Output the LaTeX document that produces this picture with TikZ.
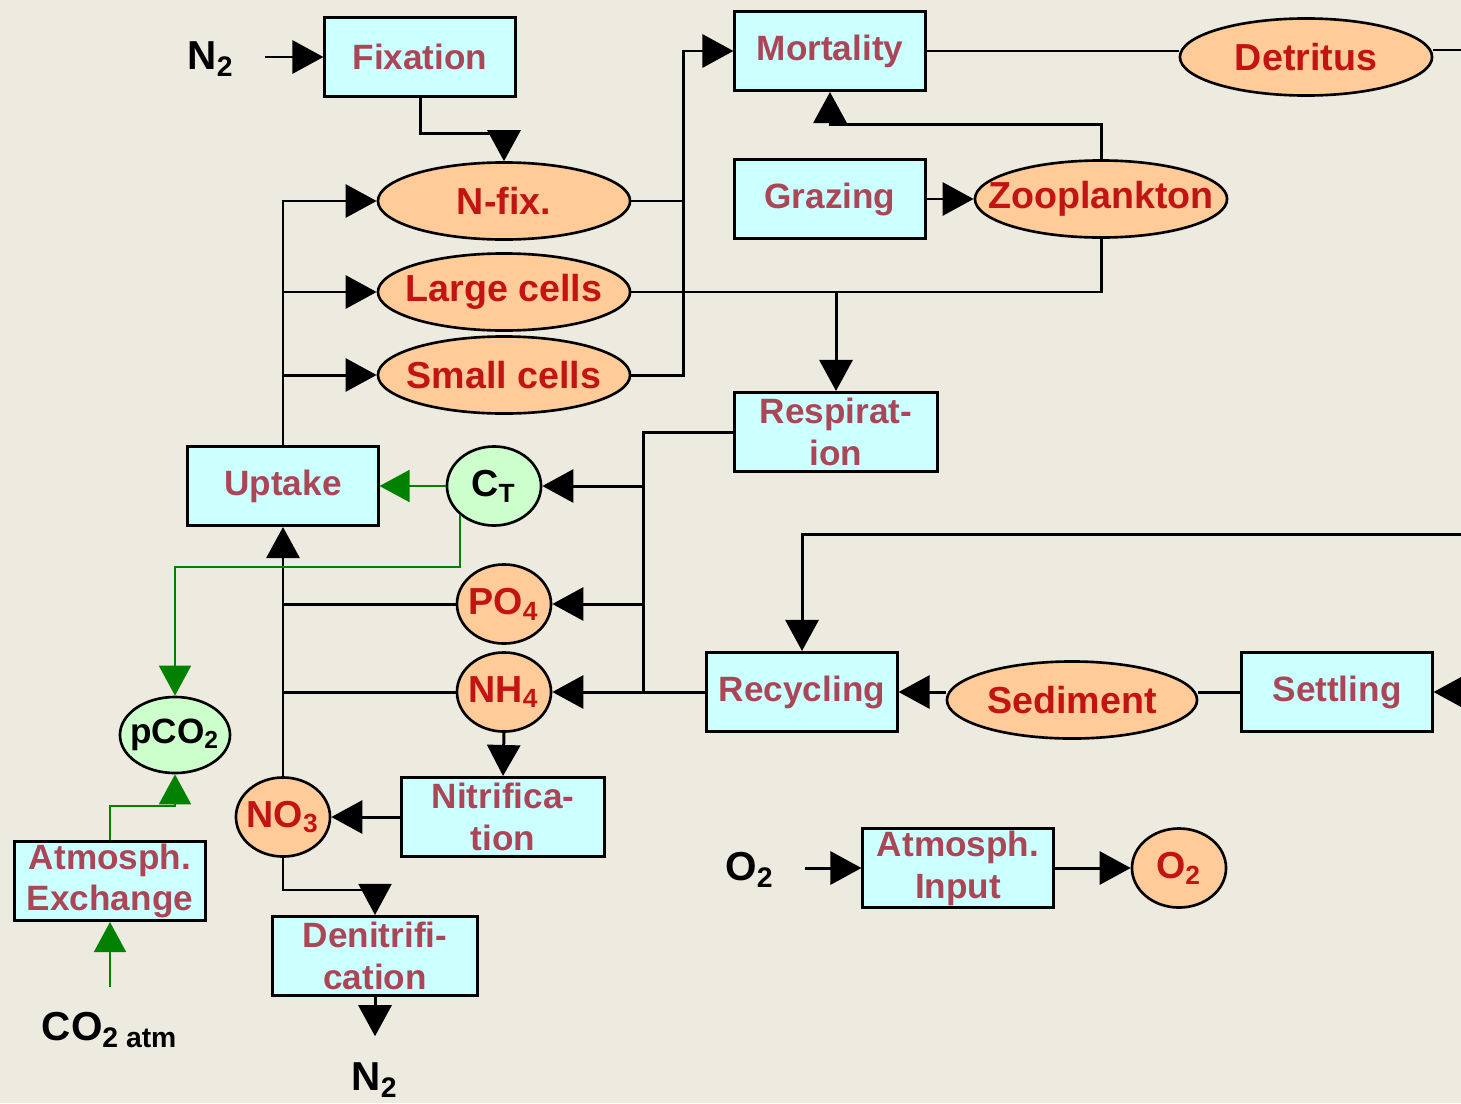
\documentclass[tikz,border=0pt]{standalone}
\usepackage{fontspec}
\setmainfont{Liberation Sans}
\usetikzlibrary{arrows.meta,shapes.geometric}
\definecolor{bgc}{RGB}{237,234,224}
\definecolor{boxfill}{RGB}{204,255,255}
\definecolor{poolfill}{RGB}{255,204,153}
\definecolor{gasfill}{RGB}{204,255,204}
\definecolor{boxtext}{RGB}{170,70,85}
\definecolor{pooltext}{RGB}{195,20,20}
\definecolor{gline}{RGB}{0,130,0}
\tikzset{
  proc/.style={draw, line width=0.85pt, fill=boxfill, text=boxtext, minimum width=1.9cm,
    minimum height=0.79cm, inner sep=0pt, align=center,
    font=\fontsize{10}{11.9}\selectfont\bfseries},
  pool/.style={ellipse, draw, line width=0.75pt, fill=poolfill, text=pooltext,
    minimum width=2.52cm, minimum height=0.77cm, inner xsep=-0.24cm, inner ysep=0pt,
    font=\fontsize{10.7}{12}\selectfont\bfseries},
  ion/.style={pool, minimum width=0.94cm, minimum height=0.79cm},
  gas/.style={ion, fill=gasfill, text=black},
  lbl/.style={font=\fontsize{11.5}{13}\selectfont\bfseries, inner sep=0pt},
  flow/.style={line width=0.85pt, -{Triangle[length=0.31cm,width=0.33cm]}},
  link/.style={line width=0.85pt},
  thinflow/.style={line width=0.45pt, -{Triangle[length=0.31cm,width=0.33cm]}},
  gflow/.style={gline, line width=0.5pt, -{Triangle[length=0.3cm,width=0.32cm]}},
}
\begin{document}
\begin{tikzpicture}[x=0.01cm, y=-0.01cm]
  \path[use as bounding box, fill=bgc] (0,0) rectangle (1461,1103);

  % boxes and pools
  \node[lbl] (n2in) at (211,59) {N\textsubscript{2}};
  \node[proc] (fix) at (420,57) {Fixation};
  \node[proc] (mort) at (830,51) {Mortality};
  \node[pool] (det) at (1306,57) {Detritus};
  \node[pool] (nfix) at (504,201) {N-fix.};
  \node[pool] (lcell) at (504,292) {Large cells};
  \node[pool] (scell) at (504,375) {Small cells};
  \node[proc] (graz) at (830,199) {Grazing};
  \node[pool] (zoo) at (1101,199) {Zooplankton};
  \node[proc, minimum width=2.03cm] (resp) at (836,432) {Respirat-\\ion};
  \node[proc] (up) at (283,486) {Uptake};
  \node[gas] (ct) at (494,486) {C\textsubscript{T}};
  \node[ion] (po4) at (504,604) {PO\textsubscript{4}};
  \node[ion] (nh4) at (504,692) {NH\textsubscript{4}};
  \node[gas, minimum width=1.1cm, minimum height=0.76cm,
    font=\fontsize{10}{12}\selectfont\bfseries] (pco2) at (175,735) {pCO\textsubscript{2}};
  \node[ion] (no3) at (283,817) {NO\textsubscript{3}};
  \node[proc, minimum width=2.02cm] (nitr) at (503,817) {Nitrifica-\\tion};
  \node[proc] (atex) at (110,881) {Atmosph.\\Exchange};
  \node[proc, minimum width=2.04cm] (denit) at (375,956) {Denitrifi-\\cation};
  \node[lbl] (co2) at (110,1030) {CO\textsubscript{2 atm}};
  \node[lbl] (n2out) at (375,1080) {N\textsubscript{2}};
  \node[proc] (recy) at (802,692) {Recycling};
  \node[pool, minimum width=2.5cm] (sed) at (1072,700) {Sediment};
  \node[proc] (sett) at (1337,692) {Settling};
  \node[lbl] (o2in) at (750,870) {O\textsubscript{2}};
  \node[proc] (atin) at (958,868) {Atmosph.\\Input};
  \node[ion] (o2) at (1179,868) {O\textsubscript{2}};

  \coordinate (jm) at (683,375);
  \coordinate (jr) at (643,432);
  \coordinate (edgeD) at (1461,50);
  \coordinate (edgeR) at (1461,534);
  \coordinate (edgeS) at (1461,692);

  % nitrogen fixation
  \draw[flow, shorten <=3mm] (fix.west -| n2in.east) -- (fix.west);
  \draw[flow] (fix.south) -- ++(0,35) -| (nfix.north);

  % uptake into the phytoplankton
  \draw[flow] (up.north) |- (nfix.west);
  \draw[flow] (up.north |- lcell.west) -- (lcell.west);
  \draw[flow] (up.north |- scell.west) -- (scell.west);

  % mortality and grazing
  \draw[link] (nfix.east) -- (nfix.east -| jm);
  \draw[flow] (scell.east) -- (jm) |- (mort.west);
  \draw[link] (lcell.east) -| (zoo.south);
  \draw[flow] (lcell.east -| resp.north) -- (resp.north);
  \draw[flow] (zoo.north) -- ++(0,-35) -| (mort.south);
  \draw[flow] (graz.east) -- (zoo.west);
  \draw[link] (mort.east) -- (det.west |- mort.east);
  \draw[link] (det.east |- edgeD) -- (edgeD);

  % respiration and remineralisation
  \draw[link] (resp.west) -- (jr) -- (jr |- nh4.east);
  \draw[flow] (jr |- ct.east) -- (ct.east);
  \draw[flow] (jr |- po4.east) -- (po4.east);
  \draw[flow] (recy.west) -- (nh4.east);
  \draw[flow] (nh4.west) -| (up.south);
  \draw[link] (po4.west) -- (po4.west -| up.south);
  \draw[line width=0.45pt] (no3.north) -- (no3.north |- nh4.west);
  \draw[flow] (nh4.south) -- (nitr.north);
  \draw[flow] (nitr.west) -- (no3.east);
  \draw[thinflow] (no3.south) -- ++(0,32) -| (denit.north);
  \draw[flow] (denit.south) -- ([yshift=2.6mm]n2out.north);

  % carbon
  \draw[gflow] (ct.west) -- (up.east);
  \draw[gflow] (ct.220) -- ++(0,52) -| (pco2.north);
  \draw[gflow] (atex.north) -- ++(0,-34) -| (pco2.south);
  \draw[gflow, shorten <=2.5mm] (co2.north) -- (atex.south);

  % sediment loop
  \draw[flow] (edgeR) -| (recy.north);
  \draw[flow] (recy.east -| sed.west) -- (recy.east);
  \draw[link] (sett.west) -- (sett.west -| sed.east);
  \draw[flow] (edgeS) -- (sett.east);

  % oxygen
  \draw[flow, shorten <=3mm] (atin.west -| o2in.east) -- (atin.west);
  \draw[flow] (atin.east) -- (o2.west);
\end{tikzpicture}
\end{document}
